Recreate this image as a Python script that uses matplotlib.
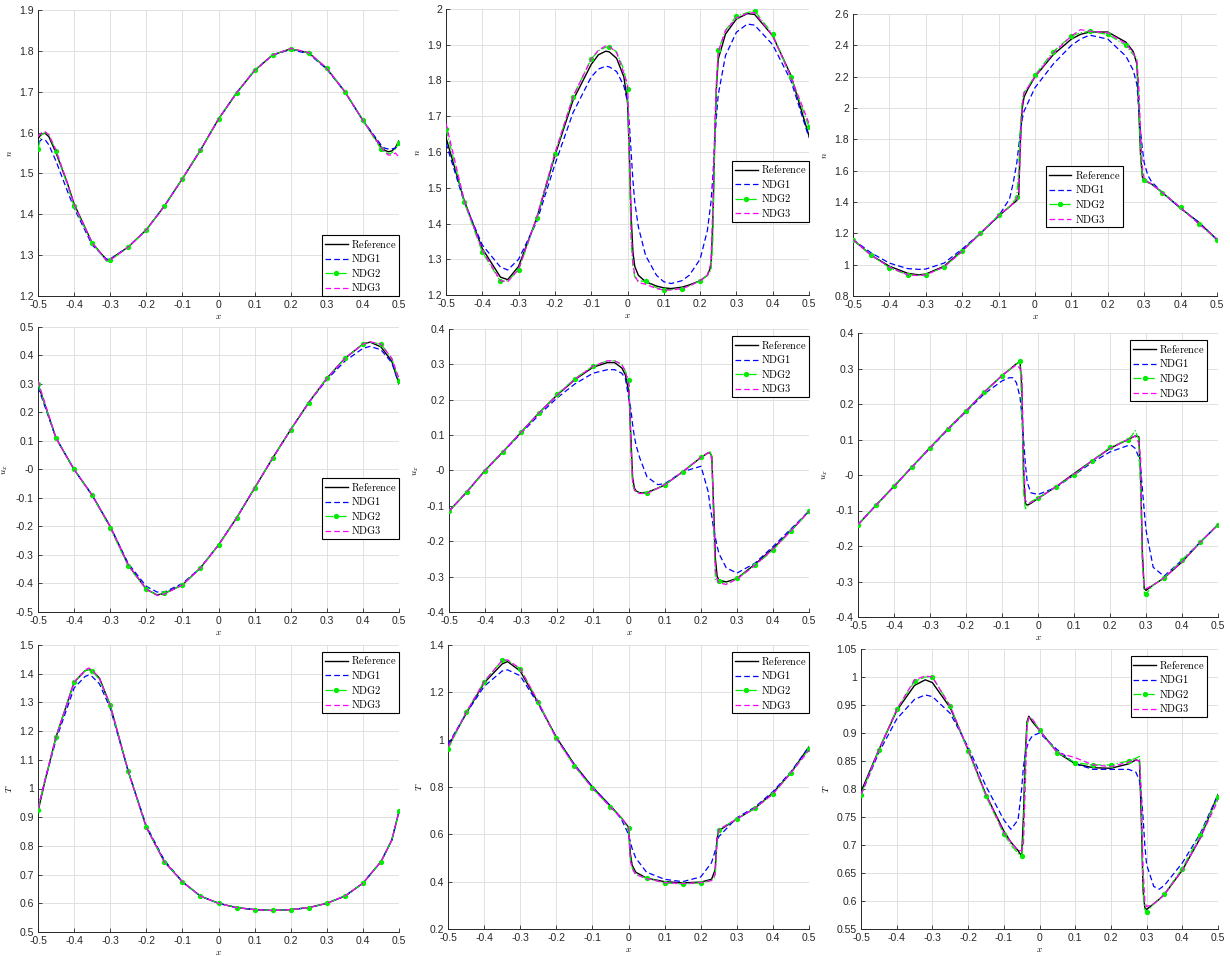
import numpy as np
import matplotlib
matplotlib.use('Agg')
import matplotlib.pyplot as plt

plt.rcParams['font.family'] = ['Liberation Sans', 'DejaVu Sans']
plt.rcParams['mathtext.fontset'] = 'cm'

labels = [r'$\mathrm{Reference}$', r'$\mathrm{NDG1}$', r'$\mathrm{NDG2}$', r'$\mathrm{NDG3}$']
xticks = [-0.5, -0.4, -0.3, -0.2, -0.1, 0, 0.1, 0.2, 0.3, 0.4, 0.5]
xticklabels = ['-0.5', '-0.4', '-0.3', '-0.2', '-0.1', '0', '0.1', '0.2', '0.3', '0.4', '0.5']

# ---- row 1: density n ----
x_n1 = [-0.5, -0.49, -0.48, -0.47, -0.45, -0.42, -0.4, -0.35, -0.31, -0.3, -0.25, -0.2, -0.15, -0.1, -0.05,
        0, 0.05, 0.1, 0.15, 0.2, 0.25, 0.3, 0.35, 0.4, 0.45, 0.46, 0.47, 0.48, 0.49, 0.5]
n1_ref = [1.585, 1.597, 1.598, 1.59, 1.55, 1.48, 1.425, 1.33, 1.288, 1.29, 1.32, 1.362, 1.42, 1.487, 1.557,
          1.633, 1.697, 1.752, 1.79, 1.805, 1.795, 1.757, 1.70, 1.63, 1.565, 1.557, 1.553, 1.555, 1.563, 1.58]
n1_g1 = [1.575, 1.583, 1.582, 1.57, 1.53, 1.46, 1.415, 1.325, 1.29, 1.29, 1.32, 1.362, 1.42, 1.487, 1.557,
         1.633, 1.697, 1.752, 1.79, 1.803, 1.793, 1.755, 1.70, 1.63, 1.57, 1.562, 1.56, 1.56, 1.562, 1.57]
n1_g2 = [1.56, 1.595, 1.6, 1.595, 1.555, 1.475, 1.42, 1.33, 1.285, 1.287, 1.32, 1.362, 1.42, 1.487, 1.557,
         1.633, 1.697, 1.753, 1.79, 1.805, 1.795, 1.757, 1.70, 1.63, 1.56, 1.553, 1.548, 1.55, 1.56, 1.575]
n1_g3 = [1.59, 1.6, 1.602, 1.595, 1.557, 1.48, 1.425, 1.33, 1.287, 1.288, 1.32, 1.362, 1.42, 1.487, 1.557,
         1.633, 1.697, 1.752, 1.79, 1.806, 1.796, 1.757, 1.70, 1.63, 1.565, 1.553, 1.545, 1.545, 1.55, 1.54]

x_n2 = [-0.5, -0.45, -0.4, -0.35, -0.33, -0.3, -0.25, -0.2, -0.15, -0.1, -0.08, -0.06, -0.05, -0.03, -0.01, 0,
        0.005, 0.01, 0.015, 0.02, 0.03, 0.05, 0.08, 0.1, 0.12, 0.15, 0.17, 0.2, 0.22, 0.23, 0.235,
        0.24, 0.245, 0.25, 0.27, 0.3, 0.33, 0.35, 0.4, 0.45, 0.5]
n2_ref = [1.64, 1.465, 1.33, 1.25, 1.243, 1.28, 1.415, 1.59, 1.745, 1.845, 1.872, 1.882, 1.88, 1.862, 1.81, 1.74,
          1.6, 1.42, 1.32, 1.28, 1.255, 1.237, 1.225, 1.22, 1.218, 1.222, 1.228, 1.24, 1.255, 1.28, 1.40,
          1.62, 1.78, 1.86, 1.93, 1.972, 1.987, 1.985, 1.925, 1.815, 1.645]
n2_g1 = [1.625, 1.46, 1.34, 1.278, 1.27, 1.30, 1.405, 1.565, 1.71, 1.81, 1.832, 1.84, 1.838, 1.825, 1.785, 1.74,
         1.68, 1.60, 1.52, 1.46, 1.39, 1.31, 1.255, 1.237, 1.232, 1.24, 1.255, 1.30, 1.38, 1.46, 1.53,
         1.62, 1.70, 1.76, 1.87, 1.935, 1.958, 1.955, 1.90, 1.80, 1.64]
n2_g2 = [1.665, 1.46, 1.32, 1.238, 1.24, 1.27, 1.415, 1.595, 1.755, 1.86, 1.883, 1.893, 1.895, 1.88, 1.83, 1.775,
         1.55, 1.35, 1.28, 1.25, 1.24, 1.238, 1.22, 1.215, 1.215, 1.218, 1.225, 1.24, 1.255, 1.27, 1.35,
         1.60, 1.78, 1.885, 1.94, 1.98, 1.99, 1.995, 1.93, 1.81, 1.67]
n2_g3 = [1.68, 1.465, 1.325, 1.24, 1.237, 1.272, 1.418, 1.597, 1.755, 1.86, 1.885, 1.897, 1.895, 1.878, 1.82, 1.79,
         1.63, 1.38, 1.29, 1.255, 1.235, 1.23, 1.218, 1.214, 1.214, 1.218, 1.225, 1.24, 1.255, 1.29, 1.45,
         1.66, 1.80, 1.88, 1.94, 1.975, 1.988, 1.99, 1.925, 1.81, 1.68]

x_n3 = [-0.5, -0.45, -0.4, -0.35, -0.32, -0.3, -0.25, -0.2, -0.15, -0.1, -0.07, -0.06, -0.05, -0.045, -0.04,
        -0.035, -0.03, -0.02, 0, 0.05, 0.1, 0.125, 0.15, 0.2, 0.25, 0.27, 0.28, 0.285, 0.29, 0.295,
        0.3, 0.31, 0.32, 0.35, 0.4, 0.45, 0.5]
n3_ref = [1.16, 1.06, 0.99, 0.945, 0.935, 0.94, 0.99, 1.09, 1.2, 1.31, 1.37, 1.39, 1.41, 1.43, 1.8,
          2.0, 2.07, 2.12, 2.2, 2.34, 2.44, 2.47, 2.485, 2.485, 2.42, 2.36, 2.28, 2.0, 1.7, 1.56,
          1.54, 1.525, 1.515, 1.46, 1.36, 1.27, 1.16]
n3_g1 = [1.16, 1.075, 1.01, 0.975, 0.97, 0.972, 1.01, 1.1, 1.2, 1.31, 1.42, 1.52, 1.65, 1.75, 1.85,
         1.93, 1.98, 2.03, 2.13, 2.28, 2.40, 2.44, 2.465, 2.44, 2.33, 2.24, 2.15, 2.0, 1.85, 1.74,
         1.65, 1.57, 1.53, 1.46, 1.36, 1.27, 1.16]
n3_g2 = [1.16, 1.06, 0.98, 0.935, 0.933, 0.935, 0.985, 1.085, 1.2, 1.315, 1.37, 1.40, 1.43, 1.6, 1.9,
         2.05, 2.1, 2.13, 2.21, 2.36, 2.46, 2.48, 2.49, 2.47, 2.40, 2.34, 2.32, 2.05, 1.7, 1.56,
         1.54, 1.525, 1.515, 1.46, 1.365, 1.26, 1.16]
n3_g3 = [1.16, 1.06, 0.985, 0.935, 0.93, 0.935, 0.985, 1.085, 1.2, 1.315, 1.37, 1.39, 1.42, 1.45, 1.75,
         2.02, 2.1, 2.13, 2.2, 2.35, 2.46, 2.5, 2.49, 2.48, 2.41, 2.35, 2.3, 2.15, 1.85, 1.62,
         1.55, 1.53, 1.515, 1.46, 1.365, 1.26, 1.165]

# ---- row 2: velocity u_x ----
x_u1 = [-0.5, -0.45, -0.4, -0.35, -0.3, -0.25, -0.2, -0.17, -0.15, -0.1, -0.05, 0, 0.05, 0.1, 0.15, 0.2,
        0.25, 0.3, 0.35, 0.4, 0.42, 0.45, 0.48, 0.5]
u1_ref = [0.3, 0.11, 0.0, -0.09, -0.2, -0.335, -0.42, -0.44, -0.435, -0.405, -0.345, -0.265, -0.17, -0.065,
          0.04, 0.14, 0.235, 0.32, 0.39, 0.44, 0.447, 0.43, 0.38, 0.3]
u1_g1 = [0.29, 0.11, 0.0, -0.09, -0.2, -0.33, -0.41, -0.43, -0.43, -0.4, -0.345, -0.265, -0.17, -0.065,
         0.04, 0.14, 0.235, 0.315, 0.38, 0.425, 0.432, 0.42, 0.375, 0.3]
u1_g2 = [0.3, 0.11, 0.0, -0.09, -0.205, -0.34, -0.42, -0.44, -0.435, -0.405, -0.345, -0.265, -0.17, -0.065,
         0.04, 0.14, 0.235, 0.32, 0.39, 0.44, 0.447, 0.44, 0.39, 0.31]
u1_g3 = [0.31, 0.11, 0.0, -0.09, -0.2, -0.335, -0.42, -0.442, -0.437, -0.405, -0.345, -0.265, -0.17, -0.065,
         0.04, 0.14, 0.235, 0.32, 0.39, 0.44, 0.448, 0.44, 0.39, 0.32]

x_u2 = [-0.5, -0.45, -0.4, -0.35, -0.3, -0.25, -0.2, -0.15, -0.1, -0.06, -0.04, -0.02, -0.01, 0, 0.005,
        0.01, 0.015, 0.02, 0.03, 0.05, 0.08, 0.1, 0.15, 0.2, 0.22, 0.225, 0.23, 0.235, 0.24, 0.245,
        0.25, 0.27, 0.3, 0.35, 0.4, 0.45, 0.5]
u2_ref = [-0.115, -0.06, 0.0, 0.053, 0.108, 0.163, 0.213, 0.257, 0.292, 0.305, 0.305, 0.29, 0.27, 0.22, 0.1,
          -0.02, -0.05, -0.058, -0.063, -0.062, -0.05, -0.04, -0.003, 0.037, 0.05, 0.05, 0.04, -0.1, -0.25, -0.30,
          -0.31, -0.315, -0.305, -0.265, -0.22, -0.17, -0.115]
u2_g1 = [-0.115, -0.06, 0.0, 0.052, 0.105, 0.157, 0.205, 0.245, 0.275, 0.285, 0.285, 0.275, 0.26, 0.2, 0.175,
         0.13, 0.095, 0.07, 0.035, -0.018, -0.04, -0.037, -0.003, 0.012, -0.06, -0.10, -0.13, -0.165, -0.19, -0.215,
         -0.235, -0.275, -0.29, -0.262, -0.215, -0.165, -0.115]
u2_g2 = [-0.115, -0.06, -0.002, 0.053, 0.108, 0.163, 0.215, 0.26, 0.295, 0.31, 0.31, 0.3, 0.28, 0.255, 0.05,
         -0.04, -0.055, -0.06, -0.063, -0.065, -0.05, -0.04, -0.003, 0.038, 0.05, 0.053, 0.04, -0.15, -0.31, -0.313,
         -0.313, -0.32, -0.305, -0.268, -0.225, -0.17, -0.115]
u2_g3 = [-0.115, -0.06, 0.0, 0.053, 0.108, 0.163, 0.213, 0.258, 0.295, 0.31, 0.31, 0.3, 0.28, 0.24, 0.08,
         -0.03, -0.055, -0.062, -0.065, -0.065, -0.05, -0.04, -0.003, 0.038, 0.05, 0.05, 0.03, -0.12, -0.28, -0.31,
         -0.318, -0.322, -0.307, -0.268, -0.222, -0.17, -0.115]

x_u3 = [-0.5, -0.45, -0.4, -0.35, -0.3, -0.25, -0.2, -0.15, -0.1, -0.08, -0.07, -0.06, -0.05, -0.045, -0.04,
        -0.035, -0.03, -0.02, 0, 0.05, 0.1, 0.15, 0.2, 0.25, 0.26, 0.27, 0.28, 0.285, 0.29, 0.295,
        0.3, 0.32, 0.35, 0.4, 0.45, 0.5]
u3_ref = [-0.14, -0.085, -0.032, 0.023, 0.077, 0.13, 0.18, 0.233, 0.28, 0.296, 0.305, 0.313, 0.32, 0.25, 0.0,
          -0.08, -0.085, -0.08, -0.066, -0.033, 0.004, 0.04, 0.075, 0.1, 0.105, 0.11, 0.108, 0.0, -0.22, -0.32,
          -0.325, -0.31, -0.29, -0.245, -0.19, -0.14]
u3_g1 = [-0.14, -0.085, -0.032, 0.022, 0.075, 0.128, 0.178, 0.228, 0.265, 0.274, 0.274, 0.26, 0.22, 0.17, 0.1,
         0.03, -0.02, -0.05, -0.055, -0.035, 0.0, 0.035, 0.065, 0.083, 0.083, 0.075, 0.05, 0.02, -0.04, -0.1,
         -0.155, -0.26, -0.285, -0.24, -0.19, -0.14]
u3_g2 = [-0.14, -0.085, -0.03, 0.023, 0.077, 0.13, 0.18, 0.233, 0.28, 0.296, 0.305, 0.313, 0.32, 0.2, -0.05,
         -0.095, -0.09, -0.075, -0.065, -0.033, 0.0, 0.04, 0.078, 0.1, 0.11, 0.125, 0.1, -0.05, -0.25, -0.33,
         -0.335, -0.31, -0.29, -0.24, -0.19, -0.14]
u3_g3 = [-0.14, -0.085, -0.032, 0.023, 0.077, 0.13, 0.18, 0.233, 0.28, 0.296, 0.303, 0.31, 0.3, 0.28, 0.05,
         -0.07, -0.08, -0.078, -0.066, -0.033, 0.002, 0.04, 0.075, 0.1, 0.105, 0.11, 0.09, 0.05, -0.25, -0.31,
         -0.32, -0.31, -0.29, -0.245, -0.19, -0.14]

# ---- row 3: temperature T ----
x_T1 = [-0.5, -0.48, -0.45, -0.4, -0.37, -0.36, -0.35, -0.33, -0.3, -0.25, -0.2, -0.15, -0.1, -0.05, 0,
        0.05, 0.1, 0.15, 0.2, 0.25, 0.3, 0.35, 0.4, 0.45, 0.48, 0.5]
T1_ref = [0.92, 1.03, 1.18, 1.37, 1.41, 1.415, 1.41, 1.385, 1.29, 1.06, 0.865, 0.745, 0.675, 0.625, 0.6,
          0.585, 0.578, 0.575, 0.578, 0.585, 0.6, 0.625, 0.67, 0.745, 0.82, 0.92]
T1_g1 = [0.93, 1.03, 1.17, 1.35, 1.39, 1.395, 1.39, 1.365, 1.28, 1.06, 0.87, 0.75, 0.675, 0.625, 0.6,
         0.585, 0.578, 0.575, 0.578, 0.585, 0.6, 0.625, 0.67, 0.745, 0.82, 0.92]
T1_g2 = [0.925, 1.03, 1.18, 1.37, 1.41, 1.415, 1.41, 1.38, 1.29, 1.06, 0.865, 0.745, 0.675, 0.625, 0.6,
         0.585, 0.578, 0.575, 0.578, 0.585, 0.6, 0.625, 0.67, 0.745, 0.82, 0.92]
T1_g3 = [0.93, 1.035, 1.18, 1.37, 1.412, 1.42, 1.413, 1.385, 1.29, 1.06, 0.865, 0.745, 0.675, 0.625, 0.6,
         0.585, 0.578, 0.575, 0.578, 0.585, 0.6, 0.625, 0.67, 0.745, 0.82, 0.92]

x_T2 = [-0.5, -0.45, -0.4, -0.35, -0.335, -0.3, -0.25, -0.2, -0.15, -0.1, -0.05, -0.02, 0, 0.005, 0.01,
        0.02, 0.05, 0.1, 0.15, 0.2, 0.23, 0.24, 0.245, 0.25, 0.3, 0.35, 0.4, 0.45, 0.5]
T2_ref = [0.97, 1.11, 1.24, 1.32, 1.33, 1.29, 1.155, 1.01, 0.895, 0.8, 0.72, 0.67, 0.63, 0.52, 0.47,
          0.44, 0.415, 0.4, 0.395, 0.398, 0.41, 0.45, 0.58, 0.615, 0.665, 0.71, 0.775, 0.86, 0.97]
T2_g1 = [0.98, 1.11, 1.225, 1.29, 1.295, 1.27, 1.15, 1.01, 0.895, 0.8, 0.72, 0.665, 0.6, 0.57, 0.54,
         0.5, 0.44, 0.41, 0.4, 0.42, 0.48, 0.53, 0.56, 0.59, 0.67, 0.715, 0.78, 0.865, 0.97]
T2_g2 = [0.96, 1.115, 1.245, 1.335, 1.335, 1.30, 1.16, 1.005, 0.89, 0.795, 0.715, 0.67, 0.625, 0.5, 0.46,
         0.43, 0.415, 0.395, 0.39, 0.395, 0.405, 0.42, 0.55, 0.62, 0.665, 0.71, 0.77, 0.86, 0.96]
T2_g3 = [0.97, 1.115, 1.245, 1.335, 1.337, 1.30, 1.16, 1.005, 0.89, 0.795, 0.715, 0.67, 0.63, 0.49, 0.455,
         0.43, 0.413, 0.396, 0.392, 0.396, 0.405, 0.43, 0.57, 0.62, 0.665, 0.71, 0.77, 0.86, 0.955]

x_T3 = [-0.5, -0.45, -0.4, -0.35, -0.32, -0.3, -0.25, -0.2, -0.15, -0.1, -0.08, -0.06, -0.05, -0.045, -0.04,
        -0.035, -0.03, -0.02, 0, 0.05, 0.1, 0.15, 0.2, 0.25, 0.27, 0.28, 0.285, 0.29, 0.295, 0.3,
        0.32, 0.335, 0.35, 0.4, 0.45, 0.5]
T3_ref = [0.795, 0.87, 0.94, 0.985, 0.995, 0.99, 0.945, 0.87, 0.79, 0.725, 0.705, 0.69, 0.68, 0.75, 0.86,
          0.92, 0.93, 0.92, 0.905, 0.865, 0.845, 0.838, 0.837, 0.845, 0.852, 0.85, 0.75, 0.62, 0.588, 0.585,
          0.595, 0.603, 0.612, 0.655, 0.712, 0.79]
T3_g1 = [0.79, 0.865, 0.925, 0.96, 0.968, 0.965, 0.935, 0.875, 0.805, 0.745, 0.728, 0.745, 0.8, 0.84, 0.86,
         0.875, 0.885, 0.895, 0.9, 0.87, 0.845, 0.835, 0.835, 0.835, 0.83, 0.815, 0.79, 0.75, 0.7, 0.665,
         0.626, 0.621, 0.628, 0.668, 0.72, 0.79]
T3_g2 = [0.79, 0.87, 0.942, 0.992, 1.0, 1.0, 0.948, 0.868, 0.787, 0.72, 0.7, 0.685, 0.68, 0.72, 0.84,
         0.915, 0.928, 0.925, 0.905, 0.865, 0.847, 0.843, 0.843, 0.85, 0.855, 0.858, 0.78, 0.62, 0.585, 0.58,
         0.595, 0.603, 0.613, 0.658, 0.718, 0.785]
T3_g3 = [0.79, 0.87, 0.942, 0.995, 1.002, 1.0, 0.948, 0.87, 0.79, 0.722, 0.705, 0.69, 0.69, 0.7, 0.8,
         0.91, 0.928, 0.925, 0.905, 0.865, 0.856, 0.843, 0.84, 0.848, 0.852, 0.85, 0.8, 0.66, 0.6, 0.59,
         0.595, 0.603, 0.612, 0.655, 0.712, 0.78]

# axes boxes in pixels: left, right, top, bottom
boxes = [[38, 399, 10, 296], [446, 809, 9, 295], [853, 1217, 14, 296],
         [38, 399, 327, 612], [449, 809, 329, 612], [858, 1218, 333, 617],
         [38, 399, 645, 932], [448, 809, 645, 929], [861, 1218, 649, 929]]
ylims = [(1.2, 1.9), (1.2, 2.0), (0.8, 2.6), (-0.5, 0.5), (-0.4, 0.4), (-0.4, 0.4),
         (0.5, 1.5), (0.2, 1.4), (0.55, 1.05)]
ysteps = [0.1, 0.1, 0.2, 0.1, 0.1, 0.1, 0.1, 0.2, 0.05]
ylabels = [r'$n$'] * 3 + [r'$u_x$'] * 3 + [r'$T$'] * 3
leg_pos = [('lower right', (1.0, 0.0)), ('upper right', (1.0, 0.47)), ('upper left', (0.53, 0.46)),
           ('upper right', (1.0, 0.47)), ('upper right', (1.0, 0.975)), ('upper right', (0.97, 0.975)),
           ('upper right', (1.0, 0.976)), ('upper right', (1.0, 0.975)), ('upper right', (0.97, 0.975))]
panels = [(x_n1, n1_ref, n1_g1, n1_g2, n1_g3), (x_n2, n2_ref, n2_g1, n2_g2, n2_g3),
          (x_n3, n3_ref, n3_g1, n3_g2, n3_g3), (x_u1, u1_ref, u1_g1, u1_g2, u1_g3),
          (x_u2, u2_ref, u2_g1, u2_g2, u2_g3), (x_u3, u3_ref, u3_g1, u3_g2, u3_g3),
          (x_T1, T1_ref, T1_g1, T1_g2, T1_g3), (x_T2, T2_ref, T2_g1, T2_g2, T2_g3),
          (x_T3, T3_ref, T3_g1, T3_g2, T3_g3)]

W, H = 1230, 956
fig = plt.figure(figsize=(12.3, 9.56), dpi=100)

for i, (x, ref, g1, g2, g3) in enumerate(panels):
    l, r, t, b = boxes[i]
    ax = fig.add_axes([l / W, 1 - b / H, (r - l) / W, (b - t) / H])
    x = np.array(x)
    marks = [k for k, v in enumerate(x) if abs(v * 20 - round(v * 20)) < 1e-6]
    ax.plot(x, ref, color='black', linestyle='-', linewidth=1.0, label=labels[0], zorder=3)
    ax.plot(x, g1, color='blue', linestyle=(0, (4.5, 2.5)), linewidth=0.9, label=labels[1], zorder=4)
    ax.plot(x, g2, color='#00ee00', linestyle='-.', linewidth=0.9, marker='o', markersize=2.8,
            markevery=marks, markerfacecolor='#00ee00', markeredgecolor='#00ee00', label=labels[2], zorder=5)
    ax.plot(x, g3, color='magenta', linestyle=(0, (4.5, 2.5)), linewidth=0.9, label=labels[3], zorder=6)

    lo, hi = ylims[i]
    ax.set_xlim(-0.5, 0.5)
    ax.set_ylim(lo, hi)
    ax.set_xticks(xticks)
    ax.set_xticklabels(xticklabels)
    yt = np.arange(lo, hi + ysteps[i] / 2, ysteps[i])
    ax.set_yticks(yt)
    ax.set_yticklabels(['%g' % round(v, 3) for v in yt])
    ax.grid(True, color='#dcdcdc', linewidth=0.6)
    ax.set_axisbelow(True)
    for s in ['top', 'right']:
        ax.spines[s].set_visible(False)
    for s in ['left', 'bottom']:
        ax.spines[s].set_color('#262626')
        ax.spines[s].set_linewidth(0.7)
    ax.tick_params(direction='in', length=3, width=0.6, labelsize=7.5, colors='#262626', pad=3)
    ax.set_xlabel(r'$x$', fontsize=6.5, labelpad=1)
    ax.set_ylabel(ylabels[i], fontsize=6.5, labelpad=4)

    loc, anchor = leg_pos[i]
    leg = ax.legend(loc=loc, bbox_to_anchor=anchor, borderaxespad=0, fontsize=7.5, fancybox=False,
                    framealpha=1, edgecolor='black', handlelength=2.2, handletextpad=0.3,
                    borderpad=0.25, labelspacing=0.25)
    leg.get_frame().set_linewidth(0.8)

plt.savefig('out.png', dpi=100)
